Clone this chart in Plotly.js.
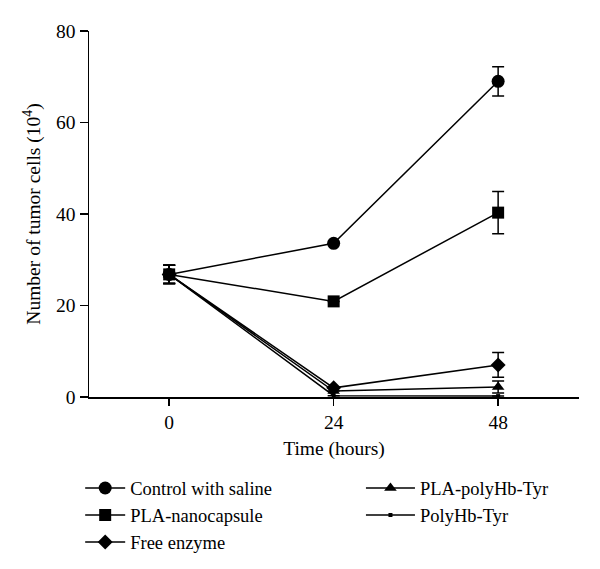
<!DOCTYPE html>
<html>
<head>
<meta charset="utf-8">
<script src="https://cdn.plot.ly/plotly-3.0.1.min.js"></script>
<style>html,body{margin:0;padding:0;background:#fff;}#chart{width:600px;height:569px;}</style>
</head>
<body>
<div id="chart"></div>
<script>
var timeHours = [0, 24, 48];
var seriesNames = ["Control with saline", "PLA-nanocapsule", "Free enzyme", "PLA-polyHb-Tyr", "PolyHb-Tyr"];
var controlSaline = [26.8, 33.6, 69.0];
var controlSalineErr = [2.0, 0, 3.2];
var plaNanocapsule = [26.8, 20.9, 40.3];
var plaNanocapsuleErr = [2.0, 0, 4.6];
var freeEnzyme = [26.8, 2.0, 7.0];
var freeEnzymeErr = [2.0, 0, 2.7];
var plaPolyHbTyr = [26.8, 1.3, 2.2];
var plaPolyHbTyrErr = [2.0, 0, 1.3];
var polyHbTyr = [26.8, 0.3, 0.2];
var polyHbTyrErr = [2.0, 0, 0];
var xTicks = [0, 24, 48];
var yTicks = [0, 20, 40, 60, 80];

var FONT = "Liberation Serif, Times New Roman, serif";
var FS = 19.5;
function tr(name, y, err, symbol, size, legend) {
  return {
    x: timeHours, y: y, name: name, type: "scatter", mode: "lines+markers",
    line: {color: "#000", width: 1.5},
    marker: {symbol: symbol, size: size, color: "#000"},
    error_y: {type: "data", array: err, visible: true, color: "#000", thickness: 1.5, width: 6},
    cliponaxis: false,
    legend: legend
  };
}
var data = [
  tr(seriesNames[0], controlSaline, controlSalineErr, "circle", 13, "legend"),
  tr(seriesNames[1], plaNanocapsule, plaNanocapsuleErr, "square", 12, "legend"),
  tr(seriesNames[2], freeEnzyme, freeEnzymeErr, "diamond", 11.5, "legend"),
  tr(seriesNames[3], plaPolyHbTyr, plaPolyHbTyrErr, "triangle-up", 11, "legend2"),
  tr(seriesNames[4], polyHbTyr, polyHbTyrErr, "square", 4, "legend2")
];
var legendCommon = {
  font: {family: FONT, size: 18.5, color: "#000"},
  bgcolor: "rgba(0,0,0,0)", borderwidth: 0,
  xanchor: "left", yanchor: "top", orientation: "v",
  tracegroupgap: 0
};
var layout = {
  width: 600, height: 569,
  margin: {l: 89, r: 21, t: 31, b: 172.3, autoexpand: false},
  paper_bgcolor: "#fff", plot_bgcolor: "#fff",
  font: {family: FONT, size: FS, color: "#000"},
  showlegend: true,
  xaxis: {
    range: [-11.7, 59.8], tickvals: xTicks, ticktext: xTicks.map(String),
    showgrid: false, zeroline: false, showline: true, linecolor: "#000", linewidth: 1.5,
    ticks: "outside", ticklen: 7, tickwidth: 1.5, tickcolor: "#000",
    tickfont: {family: FONT, size: FS, color: "#000"},
    title: {text: "Time (hours)", font: {family: FONT, size: FS, color: "#000"}, standoff: 9}
  },
  yaxis: {
    range: [0, 80], tickvals: yTicks, ticktext: yTicks.map(String),
    showgrid: false, zeroline: false, showline: true, linecolor: "#000", linewidth: 1.5,
    ticks: "outside", ticklen: 8, tickwidth: 1.5, tickcolor: "#000",
    tickfont: {family: FONT, size: FS, color: "#000"},
    title: {text: "Number of tumor cells (10<sup>4</sup>)", font: {family: FONT, size: FS, color: "#000"}, standoff: 10}
  },
  legend: Object.assign({}, legendCommon, {x: -0.018, y: -0.198, itemwidth: 40}),
  legend2: Object.assign({}, legendCommon, {x: 0.555, y: -0.198, itemwidth: 49})
};
Plotly.newPlot("chart", data, layout, {displayModeBar: false, staticPlot: true});
</script>
</body>
</html>
